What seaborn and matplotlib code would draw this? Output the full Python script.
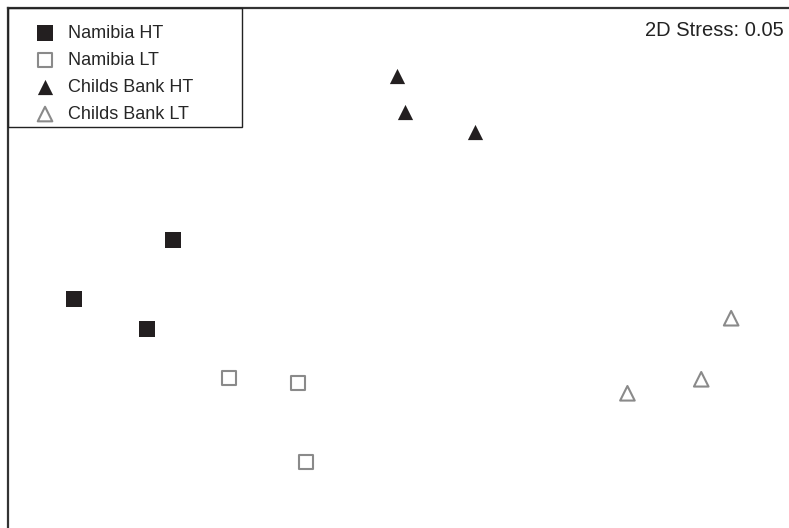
import pandas as pd
import matplotlib.pyplot as plt
import seaborn as sns
from matplotlib.patches import Rectangle

# NMDS ordination scores (arbitrary units)
groups = ['Namibia HT', 'Namibia LT', 'Childs Bank HT', 'Childs Bank LT']
nmds1 = {
    'Namibia HT': [-1.135, -1.63, -1.265],
    'Namibia LT': [-0.85, -0.505, -0.465],
    'Childs Bank HT': [-0.01, 0.03, 0.38],
    'Childs Bank LT': [1.665, 1.515, 1.145],
}
nmds2 = {
    'Namibia HT': [0.30, 0.005, -0.145],
    'Namibia LT': [-0.39, -0.415, -0.81],
    'Childs Bank HT': [1.12, 0.94, 0.84],
    'Childs Bank LT': [-0.09, -0.395, -0.465],
}
stress = 0.05

rows = []
for g in groups:
    for a, b in zip(nmds1[g], nmds2[g]):
        rows.append({'Group': g, 'MDS1': a, 'MDS2': b})
df = pd.DataFrame(rows)

sns.set_style('white')
plt.rcParams['font.family'] = ['Liberation Sans', 'DejaVu Sans']

black = '#231f20'
grey = '#8a8a8a'
styles = {
    'Namibia HT': dict(marker='s', s=120, color=black, edgecolor=black, linewidth=0),
    'Namibia LT': dict(marker='s', s=100, color=grey, facecolor='none', edgecolor=grey, linewidth=1.5),
    'Childs Bank HT': dict(marker='^', s=120, color=black, edgecolor=black, linewidth=0),
    'Childs Bank LT': dict(marker='^', s=110, color=grey, facecolor='none', edgecolor=grey, linewidth=1.5),
}

W, H = 789, 528
fig = plt.figure(figsize=(W / 100, H / 100), dpi=100)
ax = fig.add_axes([8 / W, -0.05, 1.0, 1 - 8 / H + 0.05])

for g in groups:
    sub = df[df['Group'] == g]
    sns.scatterplot(data=sub, x='MDS1', y='MDS2', ax=ax, label=g, **styles[g])

ax.set_xlim(-1.96, 1.995)
ax.set_ylim(-1.27, 1.46)
ax.set_xticks([])
ax.set_yticks([])
ax.set_xlabel('')
ax.set_ylabel('')
for side in ['right', 'bottom']:
    ax.spines[side].set_visible(False)
for side in ['left', 'top']:
    ax.spines[side].set_color('#333333')
    ax.spines[side].set_linewidth(1.6)

# legend without its own frame, box drawn separately
leg = ax.legend(loc='upper left', bbox_to_anchor=(36 / W, 1 - 25 / H),
                bbox_transform=fig.transFigure, frameon=False, fontsize=13,
                borderpad=0, borderaxespad=0, handlelength=1.0,
                handletextpad=0.75, labelspacing=0.55)
fig.patches.append(Rectangle((8 / W, 1 - 127 / H), 234 / W, 119 / H,
                             transform=fig.transFigure, fill=False,
                             edgecolor='#222222', linewidth=1.0))

fig.text(784 / W, 1 - 21 / H, f'2D Stress: {stress:.2f}',
         ha='right', va='top', fontsize=14.5, color='#222222')

plt.savefig('out.png', dpi=100)
